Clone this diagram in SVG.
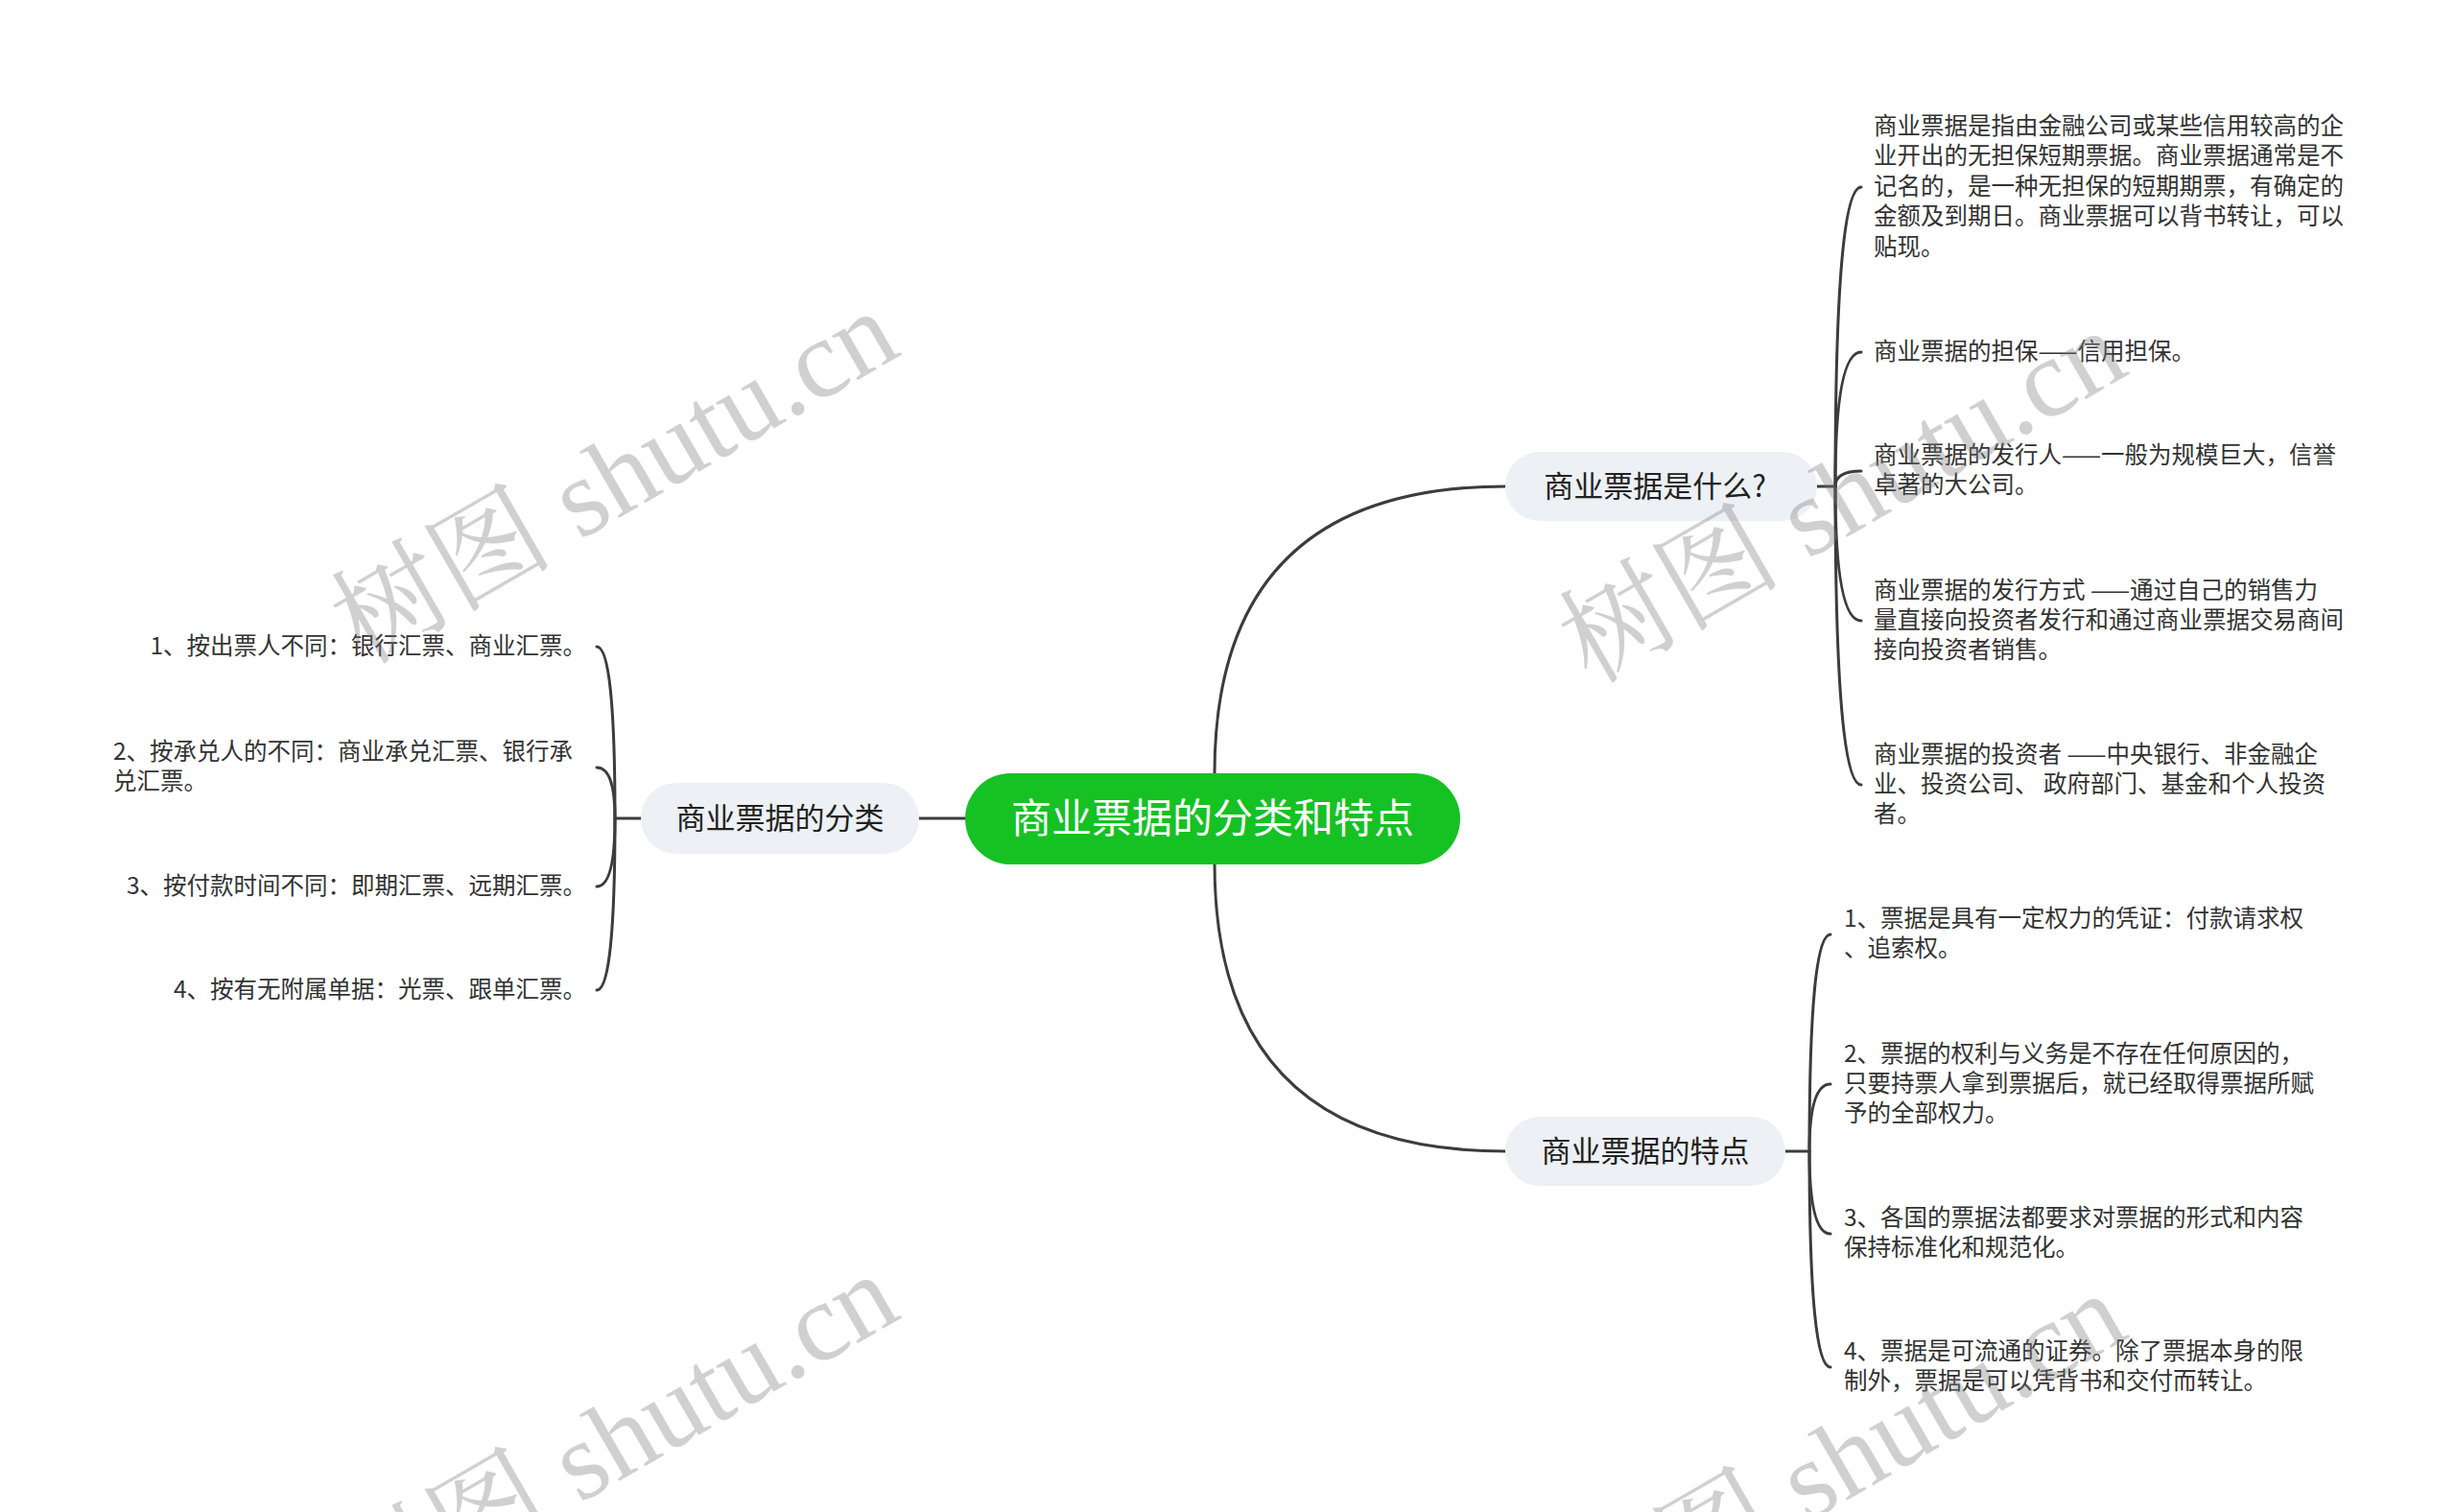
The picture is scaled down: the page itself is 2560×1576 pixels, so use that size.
<svg xmlns="http://www.w3.org/2000/svg" width="2560" height="1576" viewBox="0 0 2560 1576">
<style>
.t{font-family:"Noto Sans CJK SC","Noto Sans",sans-serif;fill:#333333}
.c{font-size:24.5px}
.n{font-size:31px;fill:#222222}
.r{font-size:42px;fill:#ffffff}
.sub{fill:#edf0f4}
.ln{fill:none;stroke:#3c3c3c;stroke-width:3;stroke-linecap:round}
.wm{font-family:"Liberation Serif","Noto Serif CJK SC","Noto Sans CJK SC",serif;font-size:116px;fill:#7a7a7a;opacity:0.35}
</style>
<rect width="2560" height="1576" fill="#ffffff"/>
<g id="connectors">
<path class="ln" d="M1266,806 Q1266,507 1569,507"/>
<path class="ln" d="M1266,900 Q1266,1200 1569,1200"/>
<path class="ln" d="M1006,853 H958"/>
<path class="ln" d="M668,853 H641"/>
<path class="ln" d="M641,853 Q641,674 622,674"/>
<path class="ln" d="M641,853 Q641,800 622,800"/>
<path class="ln" d="M641,853 Q641,924 622,924"/>
<path class="ln" d="M641,853 Q641,1032 622,1032"/>
<path class="ln" d="M1894,507 H1913"/>
<path class="ln" d="M1913,507 Q1913,195 1940,195"/>
<path class="ln" d="M1913,507 Q1913,367 1940,367"/>
<path class="ln" d="M1913,507 Q1913,491 1940,491"/>
<path class="ln" d="M1913,507 Q1913,647 1940,647"/>
<path class="ln" d="M1913,507 Q1913,818 1940,818"/>
<path class="ln" d="M1861,1200 H1886"/>
<path class="ln" d="M1886,1200 Q1886,974 1908,974"/>
<path class="ln" d="M1886,1200 Q1886,1130 1908,1130"/>
<path class="ln" d="M1886,1200 Q1886,1286 1908,1286"/>
<path class="ln" d="M1886,1200 Q1886,1425 1908,1425"/>
</g>
<g id="root">
<rect x="1006" y="806" width="516" height="95" rx="47.5" fill="#16c124"/>
<text class="t r" x="1264" y="868" text-anchor="middle">商业票据的分类和特点</text>
</g>
<g id="n-fenlei">
<rect class="sub" x="668" y="816" width="290" height="74" rx="37"/>
<text class="t n" x="813" y="864" text-anchor="middle">商业票据的分类</text>
</g>
<g id="n-shishenme">
<rect class="sub" x="1569" y="471" width="325" height="72" rx="36"/>
<text class="t n" x="1725" y="518" text-anchor="middle">商业票据是什么?</text>
</g>
<g id="n-tedian">
<rect class="sub" x="1569" y="1164" width="292" height="72" rx="36"/>
<text class="t n" x="1715" y="1211" text-anchor="middle">商业票据的特点</text>
</g>
<g id="l1"><text class="t c" x="611" y="682" text-anchor="end">1、按出票人不同：银行汇票、商业汇票。</text></g>
<g id="l2"><text class="t c" x="118" y="792">2、按承兑人的不同：商业承兑汇票、银行承</text><text class="t c" x="118" y="823">兑汇票。</text></g>
<g id="l3"><text class="t c" x="611" y="932" text-anchor="end">3、按付款时间不同：即期汇票、远期汇票。</text></g>
<g id="l4"><text class="t c" x="611" y="1040" text-anchor="end">4、按有无附属单据：光票、跟单汇票。</text></g>
<g id="c1">
<text class="t c" x="1953" y="140">商业票据是指由金融公司或某些信用较高的企</text>
<text class="t c" x="1953" y="171">业开出的无担保短期票据。商业票据通常是不</text>
<text class="t c" x="1953" y="203">记名的，是一种无担保的短期期票，有确定的</text>
<text class="t c" x="1953" y="234">金额及到期日。商业票据可以背书转让，可以</text>
<text class="t c" x="1953" y="266">贴现。</text>
</g>
<g id="c2"><text class="t c" x="1953" y="375">商业票据的担保——信用担保。</text></g>
<g id="c3">
<text class="t c" x="1953" y="483">商业票据的发行人——一般为规模巨大，信誉</text>
<text class="t c" x="1953" y="514">卓著的大公司。</text>
</g>
<g id="c4">
<text class="t c" x="1953" y="624">商业票据的发行方式 ——通过自己的销售力</text>
<text class="t c" x="1953" y="655">量直接向投资者发行和通过商业票据交易商间</text>
<text class="t c" x="1953" y="686">接向投资者销售。</text>
</g>
<g id="c5">
<text class="t c" x="1953" y="795">商业票据的投资者 ——中央银行、非金融企</text>
<text class="t c" x="1953" y="826">业、投资公司、 政府部门、基金和个人投资</text>
<text class="t c" x="1953" y="857">者。</text>
</g>
<g id="d1">
<text class="t c" x="1922" y="966">1、票据是具有一定权力的凭证：付款请求权</text>
<text class="t c" x="1922" y="997">、追索权。</text>
</g>
<g id="d2">
<text class="t c" x="1922" y="1107">2、票据的权利与义务是不存在任何原因的，</text>
<text class="t c" x="1922" y="1138">只要持票人拿到票据后，就已经取得票据所赋</text>
<text class="t c" x="1922" y="1169">予的全部权力。</text>
</g>
<g id="d3">
<text class="t c" x="1922" y="1278">3、各国的票据法都要求对票据的形式和内容</text>
<text class="t c" x="1922" y="1309">保持标准化和规范化。</text>
</g>
<g id="d4">
<text class="t c" x="1922" y="1417">4、票据是可流通的证券。除了票据本身的限</text>
<text class="t c" x="1922" y="1448">制外，票据是可以凭背书和交付而转让。</text>
</g>
<g id="watermarks">
<text class="wm" transform="translate(378,694) rotate(-30)">树图 shutu.cn</text>
<text class="wm" transform="translate(1658,714) rotate(-30)">树图 shutu.cn</text>
<text class="wm" transform="translate(378,1698) rotate(-30)">树图 shutu.cn</text>
<text class="wm" transform="translate(1658,1718) rotate(-30)">树图 shutu.cn</text>
</g>
</svg>
